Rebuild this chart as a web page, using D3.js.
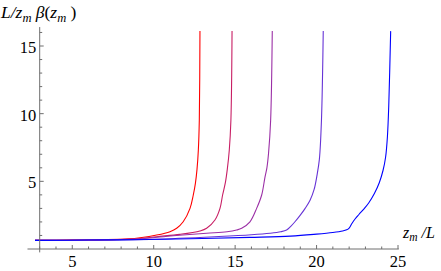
<!DOCTYPE html>
<html>
<head>
<meta charset="utf-8">
<script src="https://cdn.jsdelivr.net/npm/d3@7"></script>
<style>
  body { margin: 0; background: #fff; }
</style>
</head>
<body>
<div id="plot"></div>
<script>
// curves (x = z_m/L, y = L/z_m beta(z_m))
const redX = [2.71, 5, 7, 8.5, 9.16, 10.18, 11.0, 11.41, 11.81, 12.23, 12.43, 12.56, 12.66, 12.74, 12.80, 12.84];
const redY = [0.64, 0.66, 0.69, 0.75, 0.83, 1.03, 1.28, 1.53, 2.01, 3.0, 3.99, 4.85, 5.9, 7.3, 9.52, 16.1];

const crimsonX = [2.71, 5, 7, 9, 10.18, 11.61, 12.84, 13.25, 13.76, 14.07, 14.23, 14.40, 14.52, 14.64, 14.74, 14.81];
const crimsonY = [0.64, 0.66, 0.68, 0.76, 0.91, 1.08, 1.33, 1.53, 2.14, 3.0, 3.99, 4.9, 5.9, 7.3, 9.52, 16.1];

const purpleX = [2.71, 6, 9, 11.2, 13.25, 14.5, 15.09, 15.40, 15.91, 16.32, 16.63, 16.83, 16.95, 17.05, 17.18, 17.28];
const purpleY = [0.64, 0.66, 0.74, 0.98, 1.16, 1.27, 1.40, 1.53, 2.01, 3.0, 3.99, 5.3, 6.0, 7.06, 9.52, 16.1];

const violetX = [2.71, 6, 10, 14, 16, 17.14, 17.8, 18.16, 18.4, 18.7, 19.0, 19.3, 19.6, 19.85, 20.02, 20.17, 20.3, 20.41];
const violetY = [0.64, 0.66, 0.72, 0.92, 1.05, 1.16, 1.27, 1.40, 1.65, 2.05, 2.5, 3.0, 3.6, 4.4, 5.4, 6.6, 9.5, 16.1];

const blueX = [2.71, 6, 9.77, 13, 15.9, 18.4, 20.0, 21.0, 21.6, 21.85, 22.0, 22.15, 22.35, 22.6, 22.9, 23.2, 23.55, 23.85, 24.08, 24.24, 24.35, 24.43, 24.55];
const blueY = [0.64, 0.66, 0.70, 0.78, 0.86, 0.95, 1.1, 1.22, 1.33, 1.42, 1.55, 1.85, 2.2, 2.55, 2.95, 3.4, 4.1, 4.9, 5.8, 6.8, 8.3, 10.5, 16.1];

// ticks
const xMajor = [5, 10, 15, 20, 25];
const xMinor = d3.range(3, 26).filter(v => v % 5 !== 0);
const yMajor = [5, 10, 15];
const yMinor = d3.range(1, 17).filter(v => v % 5 !== 0);

const width = 441;
const height = 271;
const serif = '"Liberation Serif", "Times New Roman", Times, serif';

const series = [
  { xs: redX, ys: redY, color: '#ff0000' },
  { xs: crimsonX, ys: crimsonY, color: '#c81e64' },
  { xs: purpleX, ys: purpleY, color: '#9b2fa6' },
  { xs: violetX, ys: violetY, color: '#6633d6' },
  { xs: blueX, ys: blueY, color: '#0000ff' },
];

const xScale = d3.scaleLinear()
  .domain([3, 25])
  .range([39.7, 398]);

const yScale = d3.scaleLinear()
  .domain([0, 15])
  .range([249, 46]);  // y grows upward

const svg = d3.select('#plot')
  .append('svg')
  .attr('width', width)
  .attr('height', height);

const axisColor = '#6e6e6e';
const x0 = xScale(3);
const y0 = yScale(0);

// curves
const line = d3.line()
  .x(d => xScale(d[0]))
  .y(d => yScale(d[1]))
  .curve(d3.curveCatmullRom.alpha(0.5));

series.forEach(s => {
  svg.append('path')
    .datum(d3.zip(s.xs, s.ys))
    .attr('fill', 'none')
    .attr('stroke', s.color)
    .attr('stroke-width', 1.1)
    .attr('d', line);
});

// axis lines
svg.append('line')
  .attr('x1', xScale(2.25)).attr('x2', xScale(25.05))
  .attr('y1', y0).attr('y2', y0)
  .attr('stroke', axisColor);

svg.append('line')
  .attr('x1', x0).attr('x2', x0)
  .attr('y1', yScale(16.4)).attr('y2', yScale(-0.25))
  .attr('stroke', axisColor);

// x ticks (pointing up)
svg.selectAll('.xmaj')
  .data(xMajor)
  .enter()
  .append('line')
  .attr('x1', d => xScale(d)).attr('x2', d => xScale(d))
  .attr('y1', y0).attr('y2', y0 - 4)
  .attr('stroke', axisColor);

svg.selectAll('.xmin')
  .data(xMinor)
  .enter()
  .append('line')
  .attr('x1', d => xScale(d)).attr('x2', d => xScale(d))
  .attr('y1', y0).attr('y2', y0 - 2.5)
  .attr('stroke', axisColor);

svg.selectAll('.xlab')
  .data(xMajor)
  .enter()
  .append('text')
  .attr('x', d => xScale(d))
  .attr('y', y0 + 18)
  .attr('text-anchor', 'middle')
  .attr('font-family', serif)
  .attr('font-size', 16.5)
  .text(d => d);

// y ticks (pointing right)
svg.selectAll('.ymaj')
  .data(yMajor)
  .enter()
  .append('line')
  .attr('x1', x0).attr('x2', x0 + 4)
  .attr('y1', d => yScale(d)).attr('y2', d => yScale(d))
  .attr('stroke', axisColor);

svg.selectAll('.ymin')
  .data(yMinor)
  .enter()
  .append('line')
  .attr('x1', x0).attr('x2', x0 + 2.5)
  .attr('y1', d => yScale(d)).attr('y2', d => yScale(d))
  .attr('stroke', axisColor);

svg.selectAll('.ylab')
  .data(yMajor)
  .enter()
  .append('text')
  .attr('x', x0 - 3.5)
  .attr('y', d => yScale(d) + 7)
  .attr('text-anchor', 'end')
  .attr('font-family', serif)
  .attr('font-size', 16.5)
  .text(d => d);

// y axis title: L/z_m β(z_m)
const yTitle = svg.append('text')
  .attr('x', 1)
  .attr('y', 18)
  .attr('font-family', serif)
  .attr('font-size', 17.5)
  .attr('font-style', 'italic');
yTitle.append('tspan').text('L/z');
yTitle.append('tspan').attr('font-size', 12.5).attr('dy', 4).text('m');
yTitle.append('tspan').attr('dy', -4).text(' \u03b2');
yTitle.append('tspan').attr('font-style', 'normal').text('(');
yTitle.append('tspan').text('z');
yTitle.append('tspan').attr('font-size', 12.5).attr('dy', 4).text('m');
yTitle.append('tspan').attr('dy', -4).attr('font-style', 'normal').text(' )');

// x axis title: z_m/L
const xTitle = svg.append('text')
  .attr('x', 403)
  .attr('y', 238)
  .attr('font-family', serif)
  .attr('font-size', 16)
  .attr('font-style', 'italic');
xTitle.append('tspan').text('z');
xTitle.append('tspan').attr('font-size', 11.5).attr('dy', 3).text('m');
xTitle.append('tspan').attr('dy', -3).text(' /L');
</script>
</body>
</html>
